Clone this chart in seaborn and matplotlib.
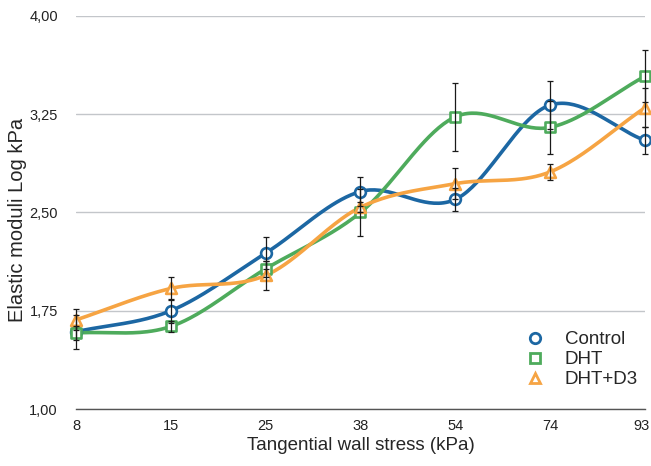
import matplotlib
matplotlib.use("Agg")
import matplotlib.pyplot as plt
from matplotlib.lines import Line2D
from matplotlib.ticker import FuncFormatter
from matplotlib.transforms import ScaledTranslation
import numpy as np
import pandas as pd
import seaborn as sns

stress_labels = ["8", "15", "25", "38", "54", "74", "93"]

control = [1.59, 1.75, 2.19, 2.66, 2.60, 3.32, 3.05]
control_err = [0.13, 0.09, 0.12, 0.11, 0.09, 0.18, 0.10]

dht = [1.58, 1.63, 2.07, 2.50, 3.23, 3.15, 3.54]
dht_err = [0.05, 0.04, 0.06, 0.18, 0.26, 0.20, 0.20]

dht_d3 = [1.68, 1.92, 2.02, 2.54, 2.72, 2.81, 3.30]
dht_d3_err = [0.08, 0.09, 0.11, 0.04, 0.12, 0.06, 0.15]

groups = ["Control", "DHT", "DHT+D3"]
colors = {"Control": "#1c67a3", "DHT": "#4eab5c", "DHT+D3": "#f6a443"}
markers = {"Control": "o", "DHT": "s", "DHT+D3": "^"}


def smooth(vals, n=40):
    # catmull-rom style hermite curve through evenly spaced points
    p = np.asarray(vals, dtype=float)
    m = np.empty_like(p)
    m[1:-1] = (p[2:] - p[:-2]) / 2
    m[0] = p[1] - p[0]
    m[-1] = p[-1] - p[-2]
    xs, ys = [], []
    t = np.linspace(0, 1, n, endpoint=False)
    for i in range(len(p) - 1):
        h00 = 2 * t**3 - 3 * t**2 + 1
        h10 = t**3 - 2 * t**2 + t
        h01 = -2 * t**3 + 3 * t**2
        h11 = t**3 - t**2
        xs.append(i + t)
        ys.append(h00 * p[i] + h10 * m[i] + h01 * p[i + 1] + h11 * m[i + 1])
    xs.append([len(p) - 1])
    ys.append([p[-1]])
    return np.concatenate(xs), np.concatenate(ys)


values = {"Control": control, "DHT": dht, "DHT+D3": dht_d3}
errors = {"Control": control_err, "DHT": dht_err, "DHT+D3": dht_d3_err}

curves = []
for g in groups:
    cx, cy = smooth(values[g])
    curves.append(pd.DataFrame({"x": cx, "y": cy, "group": g}))
curve_df = pd.concat(curves, ignore_index=True)

sns.set_style("white")
plt.rcParams["font.family"] = ["Liberation Sans", "DejaVu Sans"]

fig = plt.figure(figsize=(6.51, 4.66), dpi=100)
ax = fig.add_axes([0.1167, 0.1223, 0.8741, 0.8434])

ax.set_yticks([1.0, 1.75, 2.5, 3.25, 4.0])
ax.grid(axis="y", color="#c3c6ca", linewidth=1.0)
ax.grid(axis="x", visible=False)

sns.lineplot(data=curve_df, x="x", y="y", hue="group", palette=colors,
             sort=False, linewidth=2.6, legend=False, ax=ax, zorder=3)

x_pos = np.arange(len(stress_labels))
for g in groups:
    sns.scatterplot(x=x_pos, y=values[g], marker=markers[g], s=60,
                    facecolor="white", edgecolor=colors[g], linewidth=1.9,
                    ax=ax, zorder=4, clip_on=False, legend=False)

for g in groups:
    ax.errorbar(x_pos, values[g], yerr=errors[g], fmt="none", ecolor="#1a1a1a",
                elinewidth=0.9, capsize=2.3, capthick=0.9, zorder=5, clip_on=False)

ax.set_xlim(0, len(stress_labels) - 1)
ax.set_ylim(1.0, 4.0)
ax.set_xticks(x_pos)
ax.set_xticklabels(stress_labels)
ax.yaxis.set_major_formatter(FuncFormatter(lambda v, _: f"{v:.2f}".replace(".", ",")))
ax.tick_params(axis="both", length=0, labelsize=10.5, colors="#222222")
ax.tick_params(axis="y", pad=13)
ax.tick_params(axis="x", pad=7)

# keep the last x label inside the canvas
last = ax.get_xticklabels()[-1]
last.set_transform(last.get_transform() + ScaledTranslation(-4 / 100, 0, fig.dpi_scale_trans))

for side in ["top", "right", "left"]:
    ax.spines[side].set_visible(False)
ax.spines["bottom"].set_color("#555555")
ax.spines["bottom"].set_linewidth(1.0)

ax.set_xlabel("Tangential wall stress (kPa)", fontsize=13.5)
ax.set_ylabel("Elastic moduli Log kPa", fontsize=14.5)
ax.xaxis.set_label_coords(0.5, -0.092)
ax.yaxis.set_label_coords(-0.102, 0.48)
ax.yaxis.label.set_va("center")
ax.xaxis.label.set_va("center")

handles = [Line2D([], [], linestyle="none", marker=markers[g], markersize=7.5,
                  markerfacecolor="white", markeredgecolor=colors[g],
                  markeredgewidth=2.0, label=g) for g in groups]
ax.legend(handles=handles, loc="lower right", bbox_to_anchor=(1.017, 0.01),
          frameon=False, fontsize=13.5, labelspacing=0.15, handletextpad=1.0,
          handlelength=1.2)

fig.savefig("out.png", dpi=100)
